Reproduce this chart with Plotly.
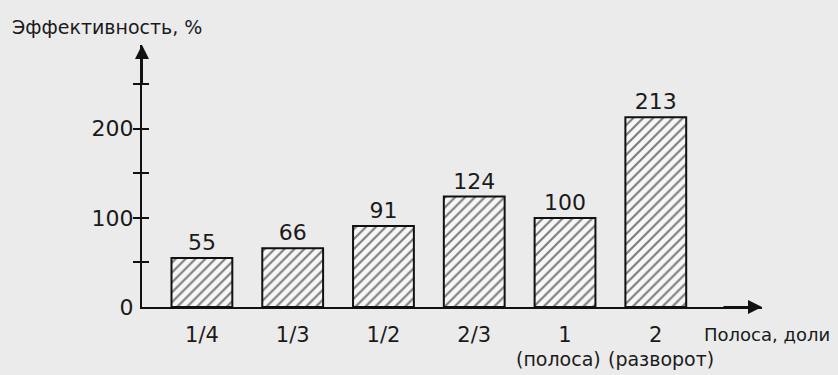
import plotly.graph_objects as go

categories = ["1/4", "1/3", "1/2", "2/3", "1", "2"]
sub_labels = {"1": "(полоса)", "2": "(разворот)"}
values = [55, 66, 91, 124, 100, 213]
y_tickvals = [0, 100, 200]
y_ticktext = ["0", "100", "200"]
y_minor = [50, 100, 150, 200, 250]

FONT = "DejaVu Sans"
BG = "#ebebeb"
INK = "#1a1a1a"

fig = go.Figure()
fig.add_trace(go.Bar(
    x=categories, y=values,
    text=[str(v) for v in values], textposition="outside",
    textfont=dict(family=FONT, size=22, color=INK),
    cliponaxis=False,
    marker=dict(color="#f7f7f7",
                line=dict(color="#111", width=2),
                pattern=dict(shape="/", fgcolor="#000", bgcolor="#f7f7f7",
                             size=7, solidity=0.3)),
    showlegend=False,
))
fig.add_trace(go.Scatter(x=categories[:1], y=[0], yaxis="y2", mode="markers",
                         marker=dict(opacity=0), showlegend=False, hoverinfo="skip"))

annotations = [
    dict(xref="paper", yref="paper", x=1, y=0, ax=-40, ay=0,
         showarrow=True, arrowhead=2, arrowsize=1.4, arrowwidth=2,
         arrowcolor="#111", text=""),
    dict(xref="paper", yref="paper", x=0, y=1, ax=0, ay=40,
         showarrow=True, arrowhead=2, arrowsize=1.4, arrowwidth=2,
         arrowcolor="#111", text=""),
    dict(xref="paper", yref="paper", x=-0.213, y=1.069, xanchor="left",
         yanchor="middle", showarrow=False, text="Эффективность, %",
         font=dict(family=FONT, size=19, color=INK)),
    dict(xref="paper", yref="paper", x=0.903, y=-0.105, xanchor="left",
         yanchor="middle", showarrow=False, text="Полоса, доли",
         font=dict(family=FONT, size=18, color=INK)),
]
shifts = {"1": -7, "2": 5}
for cat, lab in sub_labels.items():
    annotations.append(dict(xref="x", yref="paper", x=categories.index(cat), y=-0.2,
                            xshift=shifts[cat], xanchor="center", yanchor="middle",
                            showarrow=False, text=lab,
                            font=dict(family=FONT, size=19, color=INK)))

fig.update_layout(
    width=838, height=375, autosize=False,
    margin=dict(l=142, r=76, t=45, b=68),
    paper_bgcolor=BG, plot_bgcolor=BG,
    bargap=0.33,
    font=dict(family=FONT, size=20, color=INK),
    xaxis=dict(type="category", categoryorder="array", categoryarray=categories,
               range=[-0.66, 6.17], showgrid=False, zeroline=False,
               showline=True, linecolor="#111", linewidth=2,
               tickmode="array", tickvals=categories, ticktext=categories,
               tickangle=0, automargin=False,
               ticks="outside", ticklen=8, tickcolor="rgba(0,0,0,0)",
               tickfont=dict(family=FONT, size=21, color=INK)),
    yaxis=dict(range=[0, 294], showgrid=False, zeroline=False,
               showline=True, linecolor="#111", linewidth=2,
               tickmode="array", tickvals=y_tickvals, ticktext=y_ticktext,
               automargin=False,
               ticks="outside", ticklen=2, tickcolor="rgba(0,0,0,0)",
               minor=dict(tickvals=y_minor, ticks="outside", ticklen=7,
                          tickwidth=2, tickcolor="#111"),
               tickfont=dict(family=FONT, size=22, color=INK)),
    yaxis2=dict(range=[0, 294], overlaying="y", side="left", showgrid=False,
                zeroline=False, showline=False, showticklabels=False,
                automargin=False,
                tickmode="array", tickvals=y_minor, ticks="inside",
                ticklen=7, tickwidth=2, tickcolor="#111"),
    annotations=annotations,
)

fig.write_html("out.html", config={"displayModeBar": False},
               post_script="document.body.style.margin='0';document.body.style.background='%s';" % BG)
